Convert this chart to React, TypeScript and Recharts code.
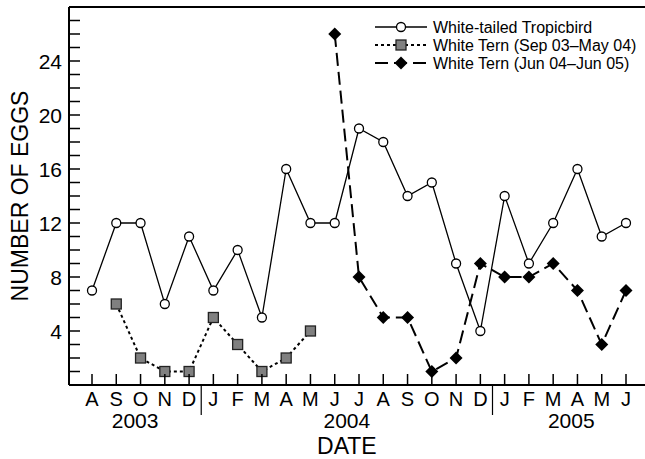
import React from 'react';
import { LineChart, Line, XAxis, YAxis, ReferenceLine, Legend } from 'recharts';

const months = ['A','S','O','N','D','J','F','M','A','M','J','J','A','S','O','N','D','J','F','M','A','M','J'];
const years = ['2003', '2004', '2005'];
const yearStarts = [0, 5, 17];
const tropicbird = [7,12,12,6,11,7,10,5,16,12,12,19,18,14,15,9,4,14,9,12,16,11,12];
const ternA: (number | null)[] = [null,6,2,1,1,5,3,1,2,4,null,null,null,null,null,null,null,null,null,null,null,null,null];
const ternB: (number | null)[] = [null,null,null,null,null,null,null,null,null,null,26,8,5,5,1,2,9,8,8,9,7,3,7];
const yTicks = [0,1,2,3,4,5,6,7,8,9,10,11,12,13,14,15,16,17,18,19,20,21,22,23,24,25,26,27,28];

const seriesNames = ['White-tailed Tropicbird', 'White Tern (Sep 03\u2013May 04)', 'White Tern (Jun 04\u2013Jun 05)'];

const data = months.map((m, i) => ({ m, tb: tropicbird[i], ta: ternA[i], tbb: ternB[i] }));

// layout constants
const W = 652;
const H = 459;
const M_TOP = 7;
const M_RIGHT = 2;
const Y_W = 69;
const X_H = 74;
const PAD_L = 23;
const PAD_R = 24;
const STEP = (W - M_RIGHT - Y_W - PAD_L - PAD_R) / (months.length - 1);

const FONT = '"Liberation Sans", Arial, Helvetica, sans-serif';

function MonthTick(props: any) {
  const { x, y, payload, index } = props;
  const k = yearStarts.indexOf(index);
  const isYearEnd = yearStarts.includes(index + 1);
  let yearLabel = null;
  if (k >= 0) {
    const first = yearStarts[k];
    const last = k + 1 < yearStarts.length ? yearStarts[k + 1] - 1 : months.length - 1;
    const left = k === 0 ? x - PAD_L : x - STEP / 2;
    const right = x + (last - first) * STEP + (k === years.length - 1 ? PAD_R : STEP / 2);
    yearLabel = (
      <text x={(left + right) / 2} y={y + 43} textAnchor="middle" fontSize={21} fill="#000">
        {years[k]}
      </text>
    );
  }
  return (
    <g>
      <line x1={x} x2={x} y1={y} y2={y - 11} stroke="#000" strokeWidth={1.5} />
      <text x={x} y={y + 21} textAnchor="middle" fontSize={20} fill="#000">{payload.value}</text>
      {isYearEnd && (
        <line x1={x + STEP / 2} x2={x + STEP / 2} y1={y} y2={y + 30} stroke="#000" strokeWidth={1.2} />
      )}
      {yearLabel}
    </g>
  );
}

function YTick(props: any) {
  const { x, y, payload } = props;
  const v = payload.value;
  return (
    <g>
      <line x1={x} x2={x + 11} y1={y} y2={y} stroke="#000" strokeWidth={1.5} />
      {v % 4 === 0 && v > 0 && v < 28 && (
        <text x={x - 7} y={y + 7.5} textAnchor="end" fontSize={21} fill="#000">{v}</text>
      )}
    </g>
  );
}

function SquareDot(props: any) {
  const { cx, cy, index } = props;
  if (cx == null || cy == null || props.value == null) return <g key={'s' + index} />;
  return <rect key={'s' + index} x={cx - 5} y={cy - 5} width={10} height={10} fill="#808080" stroke="#222" strokeWidth={1.3} />;
}

function DiamondDot(props: any) {
  const { cx, cy, index } = props;
  if (cx == null || cy == null || props.value == null) return <g key={'d' + index} />;
  const r = 6.5;
  return <polygon key={'d' + index} points={`${cx},${cy - r} ${cx + r},${cy} ${cx},${cy + r} ${cx - r},${cy}`} fill="#000" />;
}

function LegendBox() {
  const rows = [0, 1, 2];
  return (
    <svg width={280} height={60} style={{ fontFamily: FONT, display: 'block' }}>
      {rows.map((r) => {
        const cy = 10 + r * 18;
        return (
          <g key={r}>
            {r === 0 && <line x1={5} x2={57} y1={cy} y2={cy} stroke="#000" strokeWidth={1.3} />}
            {r === 1 && <line x1={5} x2={57} y1={cy} y2={cy} stroke="#000" strokeWidth={2} strokeDasharray="3 3" />}
            {r === 2 && <line x1={5} x2={57} y1={cy} y2={cy} stroke="#000" strokeWidth={2} strokeDasharray="13 6" />}
            {r === 0 && <circle cx={31} cy={cy} r={4.5} fill="#fff" stroke="#000" strokeWidth={1.3} />}
            {r === 1 && <rect x={26} y={cy - 5} width={10} height={10} fill="#808080" stroke="#222" strokeWidth={1.3} />}
            {r === 2 && <polygon points={`31,${cy - 6.5} 37.5,${cy} 31,${cy + 6.5} 24.5,${cy}`} fill="#000" />}
            <text x={63} y={cy + 5.5} fontSize={16} fill="#000">{seriesNames[r]}</text>
          </g>
        );
      })}
    </svg>
  );
}

function YLabel(props: any) {
  const vb = props.viewBox || { x: 0, y: M_TOP, width: Y_W, height: H - X_H - M_TOP };
  const cx = 28;
  const cy = vb.y + vb.height / 2;
  return (
    <text x={cx} y={cy} transform={`rotate(-90, ${cx}, ${cy})`} textAnchor="middle" fontSize={23} fill="#000">
      NUMBER OF EGGS
    </text>
  );
}

function XLabel(props: any) {
  const vb = props.viewBox || { x: Y_W, y: H - X_H };
  const x0 = vb.x + PAD_L;
  const sep1 = x0 + (yearStarts[1] - 0.5) * STEP;
  const sep2 = x0 + (yearStarts[2] - 0.5) * STEP;
  return (
    <text x={(sep1 + sep2) / 2} y={vb.y + 69} textAnchor="middle" fontSize={23} fill="#000">
      DATE
    </text>
  );
}

export default function App() {
  return (
    <div style={{ position: 'absolute', left: 0, top: 0, width: 645, height: 459, overflow: 'hidden', fontFamily: FONT, background: '#fff' }}>
      <LineChart width={W} height={H} data={data} margin={{ top: M_TOP, right: M_RIGHT, bottom: 0, left: 0 }}>
        <XAxis
          dataKey="m"
          interval={0}
          height={X_H}
          padding={{ left: PAD_L, right: PAD_R }}
          tickSize={0}
          tickMargin={0}
          tickLine={false}
          axisLine={{ stroke: '#000', strokeWidth: 2 }}
          tick={<MonthTick />}
          label={{ content: <XLabel /> }}
        />
        <YAxis
          type="number"
          domain={[0, 28]}
          ticks={yTicks}
          interval={0}
          width={Y_W}
          tickSize={0}
          tickMargin={0}
          tickLine={false}
          axisLine={{ stroke: '#000', strokeWidth: 2 }}
          tick={<YTick />}
          allowDataOverflow
          label={{ content: <YLabel /> }}
        />
        <ReferenceLine y={28} stroke="#000" strokeWidth={2} />
        <Legend
          layout="vertical"
          align="center"
          verticalAlign="middle"
          wrapperStyle={{ position: 'absolute', left: 370, top: 17, width: 280, height: 60 }}
          content={() => <LegendBox />}
        />
        <Line
          dataKey="tb"
          name={seriesNames[0]}
          stroke="#000"
          strokeWidth={1.3}
          dot={{ r: 4.5, fill: '#fff', stroke: '#000', strokeWidth: 1.3 }}
          isAnimationActive={false}
        />
        <Line
          dataKey="ta"
          name={seriesNames[1]}
          stroke="#000"
          strokeWidth={2}
          strokeDasharray="3 3"
          dot={<SquareDot />}
          isAnimationActive={false}
        />
        <Line
          dataKey="tbb"
          name={seriesNames[2]}
          stroke="#000"
          strokeWidth={2}
          strokeDasharray="13 6"
          dot={<DiamondDot />}
          isAnimationActive={false}
        />
      </LineChart>
    </div>
  );
}
